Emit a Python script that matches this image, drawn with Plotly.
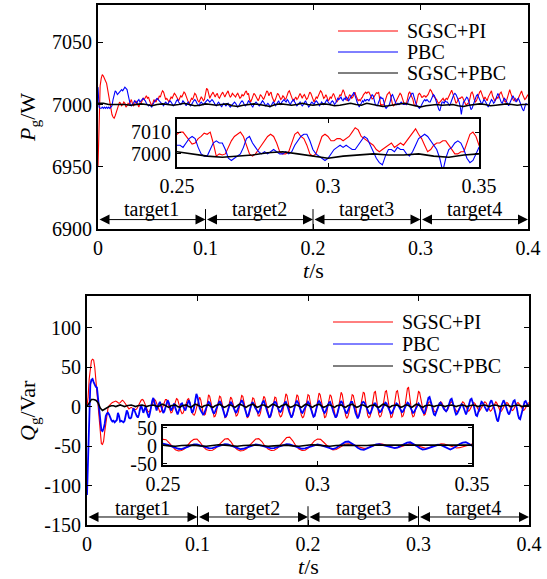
import plotly.graph_objects as go

# ---------------- data ----------------
T = [round(i * 0.001, 3) for i in range(401)]
T_BLK_P = [round(i * 0.005, 3) for i in range(81)]
T_BLK_Q = [round(i * 0.002, 3) for i in range(201)]

P_SGSC_PI = [
    6950, 6998, 7015, 7021, 7024, 7023, 7020, 7019, 7017, 7012,
    7006, 7000, 6995, 6992, 6990, 6989, 6991, 6994, 6997, 7000,
    7002, 7001, 6999, 7000, 7002, 7001, 6998, 6999, 7001, 7000,
    7002, 7004, 7001, 6999, 7000, 7003, 7002, 6999, 6998, 7001,
    7001, 7003, 7005, 7004, 7006, 7007, 7005, 7006, 7003, 7000,
    6999, 7001, 7004, 7003, 7002, 7005, 7004, 7007, 7006, 7009,
    7011, 7010, 7006, 7004, 7005, 7003, 7002, 7004, 7006, 7005,
    7007, 7009, 7008, 7006, 7004, 7003, 7005, 7007, 7006, 7008,
    7010, 7009, 7006, 7004, 7002, 7001, 7003, 7005, 7004, 7006,
    7009, 7008, 7005, 7003, 7002, 7004, 7006, 7005, 7003, 7004,
    7010, 7013, 7012, 7008, 7005, 7007, 7009, 7010, 7008, 7006,
    7008, 7009, 7006, 7005, 7007, 7009, 7010, 7008, 7006, 7008,
    7010, 7011, 7008, 7006, 7007, 7009, 7008, 7007, 7006, 7008,
    7009, 7007, 7005, 7006, 7008, 7007, 7008, 7010, 7011, 7008,
    7009, 7004, 7002, 7004, 7007, 7009, 7008, 7006, 7004, 7003,
    7005, 7008, 7007, 7005, 7004, 7006, 7009, 7011, 7010, 7007,
    7009, 7010, 7006, 7003, 7002, 7004, 7007, 7009, 7008, 7006,
    7004, 7005, 7007, 7006, 7004, 7005, 7008, 7010, 7011, 7008,
    7006, 7004, 7003, 7005, 7006, 7004, 7005, 7007, 7009, 7007,
    7005, 7007, 7008, 7006, 7004, 7005, 7008, 7010, 7009, 7006,
    7003, 7002, 7004, 7006, 7005, 7007, 7009, 7011, 7010, 7008,
    7005, 7006, 7008, 7006, 7003, 7004, 7006, 7005, 7007, 7009,
    7007, 7004, 7002, 7003, 7006, 7008, 7007, 7009, 7012, 7010,
    7006, 7004, 7003, 7005, 7008, 7007, 7005, 7006, 7009, 7010,
    7007, 7004, 7003, 7004, 7003, 7005, 7006, 7008, 7009, 7010,
    7009, 7010, 7010, 7008, 7006, 7004.5, 7005, 7007, 7008, 7009.5,
    7009, 7010, 7005, 6999, 7000, 6999.5, 7000, 7003, 7006, 7008,
    7009, 7010, 7008, 7004, 7000, 6999, 7000, 7002, 7004, 7006,
    7008, 7009, 7008, 7005, 7001, 7000, 7000, 7001, 7005, 7009,
    7010, 7008, 7007, 7004, 7000, 6999, 7000, 7004, 7008, 7009,
    7008, 7006, 7006, 7007, 7007, 7006, 7007, 7008, 7010, 7012,
    7011, 7008, 7007, 7006, 7005, 7004, 7002, 7001, 7002, 7003,
    7004, 7005, 7003, 7004, 7005, 7004, 7006, 7008, 7010, 7011.5,
    7009, 7007, 7004, 7001, 7002, 7004, 7005, 7005, 7006, 7006,
    7004, 7002, 7000, 7000, 7001, 7001, 7005, 7009, 7010, 7008,
    7004, 7002, 7003, 7006, 7008, 7010, 7011, 7008, 7005, 7004,
    7006, 7004, 7003, 7006, 7008, 7010, 7011, 7007, 7004, 7003,
    7004, 7006, 7005, 7008, 7009, 7010, 7007, 7005, 7003, 7002,
    7003, 7006, 7010, 7012, 7009, 7006, 7004, 7003, 7005, 7004,
    7003, 7005, 7007, 7009, 7011, 7008, 7006, 7004, 7005, 7007,
    7008,
]

P_PBC = [
    7014, 6998, 6997, 6997, 6998, 6997, 6998, 6997, 6998, 6997,
    6998, 6997, 6998, 6999, 7004, 7009, 7011, 7010, 7008, 7009,
    7010, 7011, 7012, 7011, 7013, 7014, 7013, 7012, 7008, 7003,
    7000, 6999, 7000, 7001, 7003, 7002, 7001, 7003, 7004, 7002,
    7003, 7004, 7005, 7004, 7003, 7001, 7000, 6999, 7000, 6999,
    6998, 7000, 7002, 7003, 7004, 7005, 7004, 7003, 7002, 7001,
    7000, 6999, 7001, 7002, 7001, 7000, 7002, 7003, 7002, 7000,
    6999, 7000, 7001, 7003, 7004, 7002, 7001, 7000, 7001, 7003,
    7002, 7000, 6999, 7001, 7002, 7000, 6999, 7000, 7002, 7003,
    7004, 7003, 7001, 7000, 6999, 7001, 7002, 7001, 7000, 7001,
    7002, 7003, 7004, 7003, 7002, 7003, 7004, 7003, 7001, 7000,
    6999, 7001, 7002, 7001, 6999, 6998, 7000, 7001, 7000, 6999,
    7000, 7001, 6999, 6998, 6999, 7000, 7001, 7002, 7001, 6999,
    6998, 6999, 7001, 7002, 7003, 7002, 7000, 6999, 7000, 7001,
    7003, 7002, 7001, 6999, 6998, 7000, 7001, 7002, 7001, 7000,
    6999, 7000, 7002, 7003, 7002, 7000, 6999, 7000, 7001, 7000,
    6998, 6999, 7001, 7002, 7001, 6999, 7000, 7002, 7003, 7001,
    7000, 7002, 7003, 7004, 7003, 7002, 7004, 7003, 7001, 7000,
    7002, 7003, 7004, 7002, 7000, 6999, 7000, 7001, 7002, 7000,
    6999, 7000, 7002, 7003, 7001, 7000, 6998, 6999, 7001, 7002,
    7001, 7000, 7002, 7003, 7002, 7000, 6999, 7000, 7002, 7001,
    7000, 7001, 7003, 7004, 7002, 7001, 7000, 7002, 7003, 7002,
    7000, 7001, 7003, 7005, 7004, 7005, 7006, 7004, 7003, 7005,
    7004, 7006, 7005, 7003, 7004, 7006, 7007, 7008, 7010, 7008,
    7005, 7002, 6999, 6998, 7000, 7001, 7003, 7002, 7004, 7003,
    7004, 7004, 7003, 7005, 7007, 7008, 7007, 7003, 7000, 6999,
    6999, 7002, 7005, 7006, 7005, 7005, 7002, 6998, 6997, 6998,
    6999, 7000, 7003, 7007, 7008, 7005, 7003, 7001, 7000, 7001,
    7000, 7001, 7002, 7001, 7000, 7000, 7001, 7000, 7001, 7004,
    7006, 7008, 7009, 7009, 7006, 7002, 7000, 6999, 6998, 6997,
    6998, 7000, 7002, 7003, 7004, 7003, 7004, 7003, 7002, 7002,
    7004, 7006, 7008, 7007, 7004, 7001, 6998, 6996, 6995, 6999,
    7002, 7002, 7001, 7003, 7002, 7002, 7000, 6999, 7001, 7004,
    7007, 7008, 7009, 7008, 7006, 7004, 7002, 6998, 6992, 6998,
    7002, 7003, 7005, 7006, 7005, 7002, 6998, 6996, 6997, 7000,
    7003, 7005, 7007, 7008, 7006, 7003, 7001, 7000, 7002, 7004,
    7003, 7001, 6999, 6998, 7000, 7002, 7004, 7003, 7001, 7002,
    7005, 7008, 7009, 7007, 7004, 7002, 7001, 7003, 7005, 7004,
    7002, 7000, 6999, 7001, 7003, 7006, 7007, 7005, 7003, 7002,
    7004, 7005, 7003, 7000, 6998, 6996, 6995, 6998, 7001, 7000,
    7000,
]

P_SGSC_PBC = [
    7001, 7001, 7000, 7000, 7000.5, 7000, 6999.5, 7000, 7000.5, 7000,
    6999, 7000, 7000.5, 7000, 6999.5, 7000, 7001, 7000, 6999, 6999.5,
    7000.5, 7000, 6999.5, 7000, 7000.5, 6999, 6998.5, 6999.5, 7000, 7000.5,
    7000, 6999, 6998.5, 7000, 7000.5, 7000, 6999.5, 7000, 7001, 7000,
    6999.5, 7000, 7000.5, 7000, 6999, 6999.5, 7000.5, 7001, 7000, 6999.5,
    7001, 7000, 6999, 6998.5, 6999, 6999.5, 7000.5, 7001, 7000, 6999,
    6998, 6999, 6999.5, 7000, 6999.5, 6999.5, 7000, 6999, 6998.5, 6999.5,
    7000, 7000.5, 7000, 6999, 6999.5, 7000, 7000.5, 7000, 6999.5, 7000,
    7000,
]

Q_SGSC_PI = [
    0, 12, 35, 52, 58, 60, 59, 50, 34, 15,
    -6, -25, -40, -47, -48, -44, -32, -20, -8, -2,
    1, 3, 4, 5, 6, 7, 7, 6, 5, 4,
    5, 7, 8, 7, 5, 2, 0, -2, -3, -2,
    -1, -2, -3, -4, -4, -3, 0, 3, 6, 8,
    9, 8, 5, 1, -3, -6, -7, -5, -1, 3,
    7, 9, 8, 4, -1, -5, -7, -6, -2, 2,
    6, 9, 9, 5, 0, -5, -8, -7, -3, 2,
    7, 10, 9, 5, -1, -6, -9, -8, -4, 1,
    5, 9, 10, 6, 0, -6, -10, -11, -8, -2,
    4, 10, 12, 8, -1, -8, -11, -10, -4, 6,
    15, 13, 6, -3, -10, -13, -12, -8, 0, 8,
    13, 12, 5, -4, -11, -14, -13, -9, -1, 8,
    12, 10, 4, -4, -10, -12, -11, -7, 1, 9,
    14, 13, 6, -3, -10, -14, -13, -9, -2, 7,
    11, 10, 4, -3, -9, -12, -12, -8, 0, 9,
    13, 11, 5, -4, -11, -14, -13, -9, -1, 8,
    12, 11, 4, -4, -10, -13, -12, -8, 1, 10,
    16, 14, 6, -3, -10, -13, -12, -7, 2, 11,
    15, 13, 5, -4, -11, -14, -13, -8, 1, 10,
    15, 14, 6, -3, -10, -13, -12, -7, 2, 11,
    17, 15, 7, -3, -10, -14, -13, -8, 1, 10,
    15, 13, 6, -4, -11, -14, -12, -7, 2, 12,
    18, 15, 6, -4, -11, -15, -13, -8, 1, 11,
    15, 14, 6, -3, -10, -14, -12, -7, 3, 12,
    18, 17, 8, -3, -11, -14, -13, -8, 2, 12,
    18, 19, 10, -2, -10, -13, -12, -7, 2, 12,
    19, 20, 11, -2, -10, -14, -13, -8, 1, 11,
    19, 20, 12, -1, -9, -13, -12, -7, 3, 14,
    23, 24, 14, 0, -9, -13, -12, -6, 4, 14,
    19, 18, 10, 0, -7, -11, -10, -5, 1, 5,
    6, 5, 2, -2, -5, -7, -6, -3, 1, 4,
    6, 5, 2, -2, -5, -6, -5, -2, 2, 5,
    6, 4, 1, -3, -6, -7, -5, -2, 2, 5,
    6, 5, 2, -2, -5, -6, -5, -2, 1, 4,
    5, 4, 1, -2, -5, -6, -4, -1, 2, 5,
    6, 5, 2, -2, -5, -6, -5, -2, 2, 5,
    6, 4, 1, -3, -6, -6, -4, -1, 2, 4,
    5, 4, 1, -2, -4, -5, -4, -1, 2, 4,
    5, 4, 2, -1, -4, -5, -4, -1, 2, 4,
    5,
]

Q_PBC = [
    -112, -55, 8, 28, 34, 35, 31, 27, 25, 24,
    12, -4, -20, -30, -31, -28, -22, -12, -9, -8,
    -10, -14, -17, -19, -18, -20, -19, -17, -8, -12,
    -19, -18, -19, -20, -18, -12, -5, -8, -14, -15,
    -14, -8, -2, -5, -9, -12, -14, -10, -3, 2,
    -3, -8, -4, 0, -6, -11, -14, -8, 1, 7,
    11, 6, -1, -5, 0, 4, 6, 1, -5, -8,
    -6, -1, 4, 8, 5, -1, -5, -3, 1, 4,
    -2, -7, -10, -6, -1, 3, 4, 0, -3, -5,
    -1, 4, 8, 5, -2, -8, -6, -1, 8, 16,
    12, 3, -2, -5, -8, -10, -9, -5, 0, 4,
    6, 5, 2, -3, -7, -9, -6, -2, 2, 4,
    7, 5, 1, -4, -9, -13, -12, -7, -1, 3,
    6, 4, 0, -3, -6, -8, -5, -1, 3, 5,
    8, 6, 1, -5, -10, -13, -11, -6, 0, 4,
    5, 3, -1, -4, -7, -8, -6, -2, 2, 6,
    7, 4, -1, -6, -11, -14, -12, -6, 0, 4,
    6, 5, 1, -3, -6, -7, -5, -1, 3, 5,
    6, 3, -2, -7, -12, -14, -11, -5, 1, 5,
    7, 5, 1, -3, -7, -8, -5, -1, 2, 4,
    6, 4, -1, -6, -11, -13, -12, -6, 0, 5,
    7, 5, 1, -3, -6, -8, -6, -2, 2, 5,
    6, 3, -2, -7, -12, -14, -12, -6, 0, 4,
    7, 5, 0, -4, -7, -9, -6, -2, 3, 6,
    6, 3, -2, -8, -13, -15, -12, -6, 1, 5,
    6, 5, 2, -2, -6, -8, -9, -7, -3, 1,
    4, 4, 1, -3, -6, -7, -6, -3, 1, 4,
    5, 4, 1, -3, -7, -9, -8, -5, -1, 2,
    4, 3, 0, -3, -6, -7, -6, -3, 1, 4,
    5, 4, 1, -3, -6, -8, -7, -4, 0, 3,
    4, 2, -1, -5, -8, -9, -6, -1, 5, 11,
    12, 8, 2, -5, -10, -11, -7, -3, 1, 4,
    5, 3, 0, -3, -5, -6, -4, 0, 5, 9,
    10, 6, 0, -6, -10, -9, -6, -2, 1, 3,
    2, -2, -8, -10, -6, 0, 5, 9, 10, 6,
    1, -5, -11, -12, -7, -2, 3, 6, 5, 2,
    -1, -4, -6, -3, 2, 6, 8, 5, 0, -5,
    -12, -17, -19, -14, -6, 1, 6, 8, 5, 0,
    -4, -8, -10, -7, -2, 3, 7, 8, 4, -2,
    -10, -15, -16, -11, -4, 2, 6, 7, 4, 1,
    2,
]

Q_SGSC_PBC = [
    0, 5, 9, 9, 8, 5, -2, -5, -3, -1,
    0, 1, 1, 0, 1, 2, 1, 0, 1, 2,
    2, 1, 0, 1, 2, 2, 1, 0, 1, 2,
    2, 1, 0, 1, 3, 2, 0, -1, 1, 2,
    2, 0, -1, 1, 2, 2, 0, -1, 1, 3,
    2, 0, -1, 1, 2, 2, 0, -1, 1, 2,
    3, 1, -1, 0, 2, 2, 0, -1, 1, 3,
    2, 0, -1, 1, 2, 3, 1, -1, 0, 2,
    2, 0, -1, 1, 3, 2, 0, -1, 1, 2,
    3, 1, -1, 0, 2, 2, 0, -1, 1, 3,
    2, 0, -1, 1, 2, 3, 1, -1, 0, 2,
    2, 0, -1, 1, 2, 2, 0, -1, 1, 2,
    3, 1, -1, 0, 2, 2, 0, -1, 1, 2,
    2, 0, -1, 1, 3, 2, 0, -1, 1, 2,
    2, 1, -1, 0, 2, 2, 0, -1, 1, 3,
    2, 0, -1, 1, 2, 2, 1, 0, 1, 2,
    2, 1, 0, 1, 2, 2, 1, 0, 1, 2,
    2, 1, 0, 1, 2, 2, 1, 0, 1, 2,
    2, 1, 0, 1, 2, 2, 1, 0, 1, 2,
    2, 1, 0, 1, 2, 2, 1, 0, 1, 2,
    2,
]

SERIES = ["SGSC+PI", "PBC", "SGSC+PBC"]
COLORS = ["#ff0000", "#0000ff", "#000000"]

TARGET_EDGES = [0, 0.1, 0.2, 0.3, 0.4]
TARGET_LABELS = ["target1", "target2", "target3", "target4"]

X_TICKS = [0, 0.1, 0.2, 0.3, 0.4]
X_TICK_TEXT = ["0", "0.1", "0.2", "0.3", "0.4"]
P_TICKS = [6900, 6950, 7000, 7050]
P_TICK_TEXT = ["6900", "6950", "7000", "7050"]
Q_TICKS = [-150, -100, -50, 0, 50, 100]
Q_TICK_TEXT = ["-150", "-100", "-50", "0", "50", "100"]
INSET_X_TICKS = [0.25, 0.3, 0.35]
INSET_X_TICK_TEXT = ["0.25", "0.3", "0.35"]
P_INSET_TICKS = [7000, 7010]
P_INSET_TICK_TEXT = ["7000", "7010"]
Q_INSET_TICKS = [-50, 0, 50]
Q_INSET_TICK_TEXT = ["-50", "0", "50"]

P_RANGE = [6900, 7080]
Q_RANGE = [-150, 140]
T_RANGE = [0, 0.4]
INSET_T_RANGE = [0.25, 0.35]
P_INSET_RANGE = [6994, 7016]
Q_INSET_RANGE = [-53, 55]

# ---------------- figure ----------------
FONT = "Times New Roman, Liberation Serif, DejaVu Serif, serif"
FS = 20
W, H = 547, 579


def px_dom(a, b, total):
    return [a / total, b / total]


def py_dom(top, bottom):
    return [1 - bottom / H, 1 - top / H]


fig = go.Figure()

p_sets = [(T, P_SGSC_PI, 1.1), (T, P_PBC, 1.1), (T_BLK_P, P_SGSC_PBC, 1.6)]
q_sets = [(T, Q_SGSC_PI, 1.1), (T, Q_PBC, 1.8), (T_BLK_Q, Q_SGSC_PBC, 1.6)]

for (xa, ya), sets in [(("x", "y"), p_sets), (("x3", "y3"), p_sets),
                       (("x2", "y2"), q_sets), (("x4", "y4"), q_sets)]:
    for name, color, (tx, vals, lw) in zip(SERIES, COLORS, sets):
        fig.add_trace(go.Scatter(x=tx, y=vals, mode="lines", name=name,
                                 line=dict(color=color, width=lw),
                                 xaxis=xa, yaxis=ya, showlegend=False,
                                 hoverinfo="skip"))


def ax(**kw):
    d = dict(showline=True, linecolor="black", linewidth=2, mirror="ticks",
             ticks="inside", ticklen=5, tickwidth=1, tickcolor="black",
             showgrid=False, zeroline=False, automargin=False,
             tickfont=dict(family=FONT, size=FS, color="black"))
    d.update(kw)
    return d


fig.update_layout(
    width=W, height=H, margin=dict(l=0, r=0, t=0, b=0, autoexpand=False),
    paper_bgcolor="white", plot_bgcolor="white", showlegend=False,
    font=dict(family=FONT, size=FS, color="black"),
    xaxis=ax(domain=px_dom(98, 528, W), range=T_RANGE, anchor="y",
             tickvals=X_TICKS, ticktext=X_TICK_TEXT),
    yaxis=ax(domain=py_dom(5, 229), range=P_RANGE, anchor="x",
             tickvals=P_TICKS, ticktext=P_TICK_TEXT),
    xaxis2=ax(domain=px_dom(87, 529, W), range=T_RANGE, anchor="y2",
              tickvals=X_TICKS, ticktext=X_TICK_TEXT),
    yaxis2=ax(domain=py_dom(296, 525), range=Q_RANGE, anchor="x2",
              tickvals=Q_TICKS, ticktext=Q_TICK_TEXT),
    xaxis3=ax(domain=px_dom(177, 479, W), range=INSET_T_RANGE, anchor="y3",
              tickvals=INSET_X_TICKS, ticktext=INSET_X_TICK_TEXT, ticklen=4),
    yaxis3=ax(domain=py_dom(119, 167), range=P_INSET_RANGE, anchor="x3",
              tickvals=P_INSET_TICKS, ticktext=P_INSET_TICK_TEXT, ticklen=4),
    xaxis4=ax(domain=px_dom(163, 472, W), range=INSET_T_RANGE, anchor="y4",
              tickvals=INSET_X_TICKS, ticktext=INSET_X_TICK_TEXT, ticklen=4),
    yaxis4=ax(domain=py_dom(426, 465), range=Q_INSET_RANGE, anchor="x4",
              tickvals=Q_INSET_TICKS, ticktext=Q_INSET_TICK_TEXT, ticklen=4),
)

annotations = []
shapes = []

# target arrows
for xr, yr, arrow_y, label_y, sep_top in [("x", "y domain", 0.042, 0.089, 0.089),
                                           ("x2", "y2 domain", 0.035, 0.074, 0.082)]:
    for i, lab in enumerate(TARGET_LABELS):
        a, b = TARGET_EDGES[i], TARGET_EDGES[i + 1]
        annotations.append(dict(
            x=b, y=arrow_y, xref=xr, yref=yr, ax=a, ay=0, axref=xr, ayref="pixel",
            text="", showarrow=True, arrowside="end+start",
            arrowhead=2, startarrowhead=2, arrowsize=2, startarrowsize=2,
            arrowwidth=1, arrowcolor="black", standoff=0, startstandoff=0))
        annotations.append(dict(
            x=(a + b) / 2, y=label_y, xref=xr, yref=yr, text=lab, showarrow=False,
            yanchor="middle", font=dict(family=FONT, size=FS, color="black")))
    for e in TARGET_EDGES[1:-1]:
        shapes.append(dict(type="line", xref=xr, yref=yr, x0=e, x1=e, y0=0, y1=sep_top,
                           line=dict(color="black", width=1)))

# manual legends
for rows, lx0, lx1, tx in [([31, 52, 73], 338, 398, 405), ([322, 344, 366], 333, 393, 400)]:
    for name, color, ry in zip(SERIES, COLORS, rows):
        yp = 1 - ry / H
        shapes.append(dict(type="line", xref="paper", yref="paper",
                           x0=lx0 / W, x1=lx1 / W, y0=yp, y1=yp,
                           line=dict(color=color, width=1)))
        annotations.append(dict(x=tx / W, y=yp, xref="paper", yref="paper", text=name,
                                showarrow=False, xanchor="left", yanchor="middle",
                                font=dict(family=FONT, size=FS, color="black")))

# axis titles
for txt, xp, yp, ang in [("<i>P</i><sub>g</sub>/W", 29, 117, -90),
                         ("<i>Q</i><sub>g</sub>/Var", 29, 410, -90),
                         ("<i>t</i>/s", 313, 270, 0),
                         ("<i>t</i>/s", 308, 566, 0)]:
    annotations.append(dict(x=xp / W, y=1 - yp / H, xref="paper", yref="paper", text=txt,
                            showarrow=False, textangle=ang, xanchor="center", yanchor="middle",
                            font=dict(family=FONT, size=22, color="black")))

fig.update_layout(annotations=annotations, shapes=shapes)
fig.write_html("out.html")
